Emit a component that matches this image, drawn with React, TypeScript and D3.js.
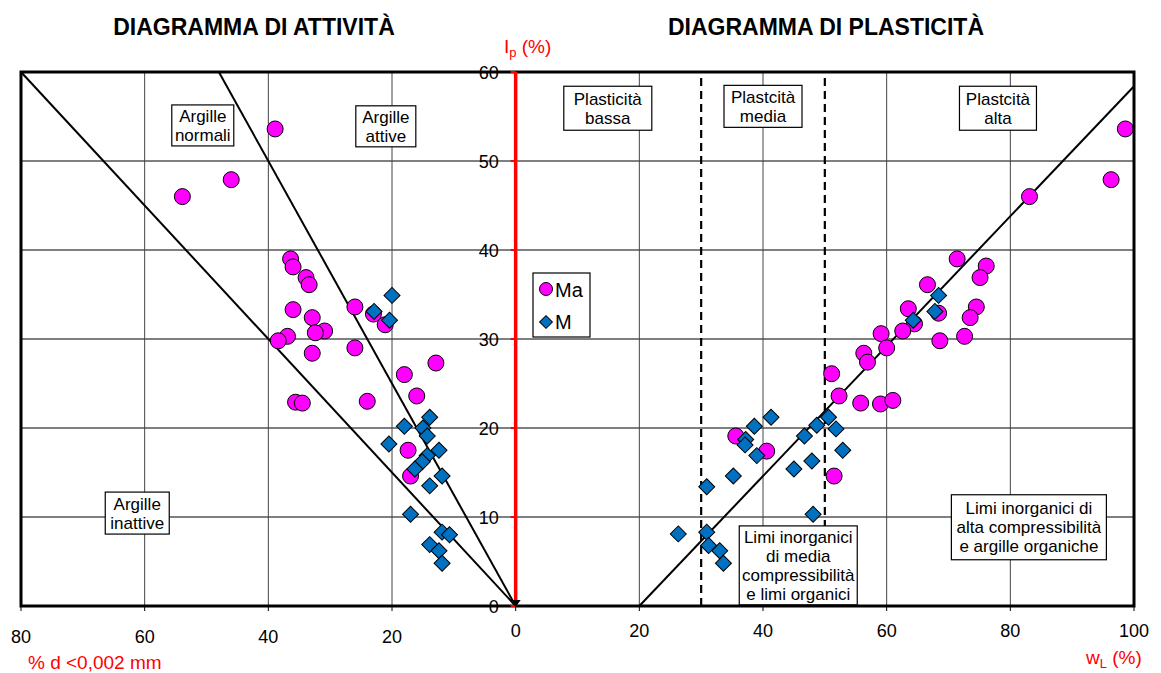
import React from 'react';
import * as d3 from 'd3';

const W = 1161;
const H = 673;

// activity chart: [% d < 0.002 mm, Ip]
const activityMa: [number, number][] = [
  [38.9, 53.6], [46.0, 47.9], [53.9, 46.0], [36.4, 39.0], [36.0, 38.1],
  [33.9, 36.9], [33.4, 36.1], [36.0, 33.3], [32.9, 32.4], [30.9, 30.9],
  [32.4, 30.7], [36.9, 30.3], [38.4, 29.8], [32.9, 28.4], [26.0, 33.6],
  [26.0, 29.0], [23.0, 32.8], [21.1, 31.6], [18.0, 26.0], [12.9, 27.3],
  [16.0, 23.6], [24.0, 23.0], [35.6, 22.9], [34.5, 22.8], [17.4, 17.5],
  [17.0, 14.6],
];
const activityM: [number, number][] = [
  [20.0, 34.9], [22.9, 33.1], [20.4, 32.1], [13.9, 21.2], [18.0, 20.2],
  [15.0, 20.0], [14.3, 19.1], [20.5, 18.2], [12.4, 17.5], [14.3, 16.9],
  [15.1, 16.2], [16.3, 15.4], [11.9, 14.6], [13.9, 13.5], [17.0, 10.3],
  [11.9, 8.3], [10.7, 8.0], [13.9, 6.9], [12.4, 6.2], [11.9, 4.8],
];

// plasticity chart: [wL, Ip]
const plasticityMa: [number, number][] = [
  [98.6, 53.6], [96.3, 47.9], [83.1, 46.0], [76.1, 38.2], [75.1, 36.9],
  [74.5, 33.6], [73.5, 32.4], [72.6, 30.3], [71.4, 39.0], [66.6, 36.1],
  [63.5, 33.4], [68.4, 32.9], [64.5, 31.7], [62.6, 30.9], [59.1, 30.6],
  [68.6, 29.8], [60.0, 29.0], [56.3, 28.4], [56.9, 27.4], [51.1, 26.1],
  [52.3, 23.6], [55.8, 22.8], [59.0, 22.7], [61.0, 23.1], [35.6, 19.1],
  [40.6, 17.4], [51.5, 14.6],
];
const plasticityM: [number, number][] = [
  [68.4, 34.9], [67.8, 33.1], [64.3, 32.1], [41.3, 21.2], [50.6, 21.2],
  [38.6, 20.2], [48.7, 20.3], [51.8, 19.9], [46.7, 19.1], [37.2, 18.7],
  [37.1, 18.1], [39.0, 16.9], [52.9, 17.5], [47.9, 16.3], [45.0, 15.4],
  [35.2, 14.6], [30.9, 13.4], [48.1, 10.3], [26.3, 8.1], [30.9, 8.3],
  [31.2, 6.8], [33.0, 6.2], [33.6, 4.8],
];

const ipTicks = [0, 10, 20, 30, 40, 50, 60];
const clayTicks = [80, 60, 40, 20];
const wlTicks = [0, 20, 40, 60, 80, 100];
const activityLimits = [0.75, 1.25];
const aLineSlope = 0.73;
const aLineStart = 20;
const wlBounds = [30, 50];

// zone labels: x in chart units (negative = activity side), top in Ip units
const zones = [
  { lines: ['Argille', 'normali'], x: -50.6, top: 56.3, w: 62, h: 41 },
  { lines: ['Argille', 'attive'], x: -21.0, top: 56.2, w: 60, h: 41 },
  { lines: ['Argille', 'inattive'], x: -61.2, top: 12.8, w: 64, h: 42 },
  { lines: ['Plasticità', 'bassa'], x: 14.9, top: 58.4, w: 88, h: 44 },
  { lines: ['Plastcità', 'media'], x: 40.0, top: 58.5, w: 78, h: 42 },
  { lines: ['Plastcità', 'alta'], x: 78.0, top: 58.4, w: 77, h: 44 },
  { lines: ['Limi inorganici', 'di media', 'compressibilità', 'e limi organici'], x: 45.7, top: 9.0, w: 118, h: 79 },
  { lines: ['Limi inorganici  di', 'alta compressibilità', 'e argille organiche'], x: 83.0, top: 12.5, w: 155, h: 65 },
];

const FONT = '"Liberation Sans", Arial, sans-serif';
const MA_FILL = '#FF00FF';
const M_FILL = '#0070C0';

const x = d3.scaleLinear().domain([-80, 100]).range([21, 1134]);
const y = d3.scaleLinear().domain([0, 60]).range([606, 72]);

const line = d3.line<[number, number]>().x(d => x(d[0])).y(d => y(d[1]));
const diamond = d3.symbol(d3.symbolSquare, 128)();

const Circle = ({ cx, cy, r = 8 }: { cx: number; cy: number; r?: number }) => (
  <circle cx={cx} cy={cy} r={r} fill={MA_FILL} stroke="#000" strokeWidth={1} />
);
const Diamond = ({ cx, cy, s = 1 }: { cx: number; cy: number; s?: number }) => (
  <path d={diamond as string} transform={`translate(${cx},${cy}) rotate(45) scale(${s})`}
    fill={M_FILL} stroke="#000" strokeWidth={1 / s} />
);

export default function App() {
  const x0 = x(0);
  return (
    <svg width={W} height={H} style={{ position: 'absolute', left: 0, top: 0, background: '#fff' }}
      fontFamily={FONT}>
      {/* titles */}
      <text x={254} y={35} textAnchor="middle" fontSize={23} fontWeight="bold">DIAGRAMMA DI ATTIVITÀ</text>
      <text x={826} y={35} textAnchor="middle" fontSize={23} fontWeight="bold">DIAGRAMMA DI PLASTICITÀ</text>

      {/* grid */}
      {ipTicks.slice(1, -1).map(t => (
        <line key={'h' + t} x1={x(-80)} x2={x(100)} y1={y(t)} y2={y(t)} stroke="#000" strokeWidth={1} />
      ))}
      {clayTicks.slice(1).map(t => (
        <line key={'vl' + t} x1={x(-t)} x2={x(-t)} y1={y(0)} y2={y(60)} stroke="#444" strokeWidth={1} />
      ))}
      {wlTicks.slice(1, -1).map(t => (
        <line key={'vr' + t} x1={x(t)} x2={x(t)} y1={y(0)} y2={y(60)} stroke="#444" strokeWidth={1} />
      ))}

      {/* dashed bounds */}
      {wlBounds.map(b => (
        <line key={'d' + b} x1={x(b)} x2={x(b)} y1={y(0)} y2={y(60)} stroke="#000" strokeWidth={2.2} strokeDasharray="8,5" />
      ))}

      {/* activity limits */}
      {activityLimits.map(a => {
        const end = Math.min(80, 60 / a);
        return <path key={'a' + a} d={line([[0, 0], [-end, end * a]]) as string} stroke="#000" strokeWidth={2} fill="none" />;
      })}
      {/* A line */}
      <path d={line([[aLineStart, 0], [100, aLineSlope * (100 - aLineStart)]]) as string} stroke="#000" strokeWidth={2} fill="none" />

      {/* zone labels */}
      {zones.map((z, i) => {
        const cx = x(z.x);
        const top = y(z.top);
        const mid = top + z.h / 2;
        return (
          <g key={'z' + i}>
            <rect x={cx - z.w / 2} y={top} width={z.w} height={z.h} fill="#fff" stroke="#000" strokeWidth={1.2} />
            {z.lines.map((l, j) => (
              <text key={j} x={cx} y={mid + (j - (z.lines.length - 1) / 2) * 19 + 6} textAnchor="middle" fontSize={17}>
                {l}
              </text>
            ))}
          </g>
        );
      })}

      {/* points */}
      {activityMa.map((d, i) => <Circle key={'am' + i} cx={x(-d[0])} cy={y(d[1])} />)}
      {plasticityMa.map((d, i) => <Circle key={'pm' + i} cx={x(d[0])} cy={y(d[1])} />)}
      {activityM.map((d, i) => <Diamond key={'aM' + i} cx={x(-d[0])} cy={y(d[1])} />)}
      {plasticityM.map((d, i) => <Diamond key={'pM' + i} cx={x(d[0])} cy={y(d[1])} />)}

      {/* frame */}
      <rect x={x(-80)} y={y(60)} width={x(100) - x(-80)} height={y(0) - y(60)} fill="none" stroke="#000" strokeWidth={3} />

      {/* bottom ticks */}
      {clayTicks.map(t => (
        <line key={'bt' + t} x1={x(-t)} x2={x(-t)} y1={y(0)} y2={y(0) + 5} stroke="#000" strokeWidth={1} />
      ))}
      {wlTicks.map(t => (
        <line key={'bw' + t} x1={x(t)} x2={x(t)} y1={y(0)} y2={y(0) + 5} stroke="#000" strokeWidth={1} />
      ))}

      {/* red Ip axis */}
      <line x1={x0} x2={x0} y1={y(0)} y2={y(60)} stroke="#FF0000" strokeWidth={3.5} />
      {ipTicks.map(t => (
        <g key={'yt' + t}>
          <line x1={x0 - 5} x2={x0} y1={y(t)} y2={y(t)} stroke="#FF0000" strokeWidth={2} />
          <text x={x0 - 17} y={y(t) + 6.5} textAnchor="end" fontSize={18}>{t}</text>
        </g>
      ))}
      <path d="M-5,-4 L5,-4 L0,3 Z" transform={`translate(${x0},${y(0) - 2})`} fill="#000" />

      {/* x tick labels */}
      {clayTicks.map(t => (
        <text key={'cl' + t} x={x(-t)} y={643} textAnchor="middle" fontSize={18}>{t}</text>
      ))}
      {wlTicks.map(t => (
        <text key={'wl' + t} x={x(t)} y={637} textAnchor="middle" fontSize={18}>{t}</text>
      ))}

      {/* axis titles */}
      <text x={504} y={53} fontSize={19} fill="#FF0000">
        I<tspan fontSize={13} dy={4}>p</tspan><tspan dy={-4}> (%)</tspan>
      </text>
      <text x={28} y={669} fontSize={19} fill="#FF0000">% d &lt;0,002 mm</text>
      <text x={1086} y={664} fontSize={19} fill="#FF0000">
        w<tspan fontSize={13} dy={4}>L</tspan><tspan dy={-4}> (%)</tspan>
      </text>

      {/* legend */}
      <rect x={533} y={273} width={57} height={64} fill="#fff" stroke="#000" strokeWidth={1.2} />
      <Circle cx={546} cy={289} r={6.5} />
      <text x={555} y={296.5} fontSize={20}>Ma</text>
      <Diamond cx={546} cy={322} s={0.8} />
      <text x={555} y={329} fontSize={20}>M</text>
    </svg>
  );
}
